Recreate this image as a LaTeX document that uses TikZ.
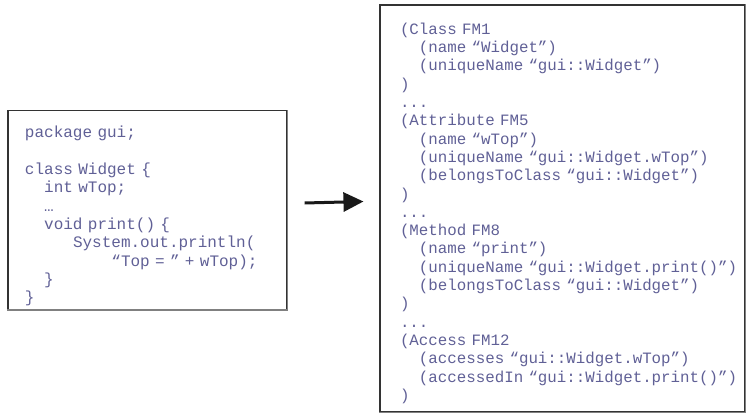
\documentclass[tikz,border=0pt]{standalone}
\usepackage{fontspec}
\setmonofont{Liberation Mono}
\usepackage{tikz}
\usetikzlibrary{arrows.meta}

\definecolor{codeblue}{RGB}{96,96,150}
\newcommand{\codefont}{\ttfamily\spaceskip=0.6em\relax}
\newcommand{\ind}[1]{\hspace*{#1\dimexpr 0.6em\relax}}

\begin{document}
\begin{tikzpicture}[x=1pt, y=-1pt,
    codebox/.style = {draw=black!80, line width=1.1pt, align=left,
      inner xsep=0pt, text=codeblue},
    lowedge/.style = {draw=black!50, line width=1.6pt},
    flow/.style = {line width=3pt, black!90, -{Triangle[length=20pt, width=19pt]}}]
  \useasboundingbox (0,0) rectangle (750,415);
  % source code
  \node [codebox, minimum width=279pt, minimum height=194pt, text width=256pt,
    font=\fontsize{16}{18.3}\selectfont\codefont]
    (src) at (147.5,210) {\leftskip=5.5pt \rule{0pt}{24pt}package gui;\\[18.3pt]
      class Widget \{\\
      \ind{2}int wTop;\\
      \ind{2}…\\
      \ind{2}void print() \{\\
      \ind{5}System.out.println(\\
      \ind{9}“Top = ” + wTop);\\
      \ind{2}\}\\
      \}\par};
  \draw [lowedge] (src.north east) -- (src.south east) -- (src.south west);
  % FAMIX model
  \node [codebox, minimum width=365pt, minimum height=407pt, text width=362pt,
    font=\fontsize{15.8}{18.3}\selectfont\codefont]
    (fm) at (562.5,208.5) {\leftskip=18.5pt \rule{0pt}{21pt}(Class FM1\\
      \ind{2}(name “Widget”)\\
      \ind{2}(uniqueName “gui::Widget”)\\
      )\\
      ...\\
      (Attribute FM5\\
      \ind{2}(name “wTop”)\\
      \ind{2}(uniqueName “gui::Widget.wTop”)\\
      \ind{2}(belongsToClass “gui::Widget”)\\
      )\\
      ...\\
      (Method FM8\\
      \ind{2}(name “print”)\\
      \ind{2}(uniqueName “gui::Widget.print()”)\\
      \ind{2}(belongsToClass “gui::Widget”)\\
      )\\
      ...\\
      (Access FM12\\
      \ind{2}(accesses “gui::Widget.wTop”)\\
      \ind{2}(accessedIn “gui::Widget.print()”)\\
      )\par};
  \draw [lowedge] (fm.north east) -- (fm.south east) -- (fm.south west);
  \draw [flow] ([xshift=17pt, yshift=7pt]src.east) -- ([xshift=-16pt, yshift=7pt]fm.west);
\end{tikzpicture}
\end{document}
